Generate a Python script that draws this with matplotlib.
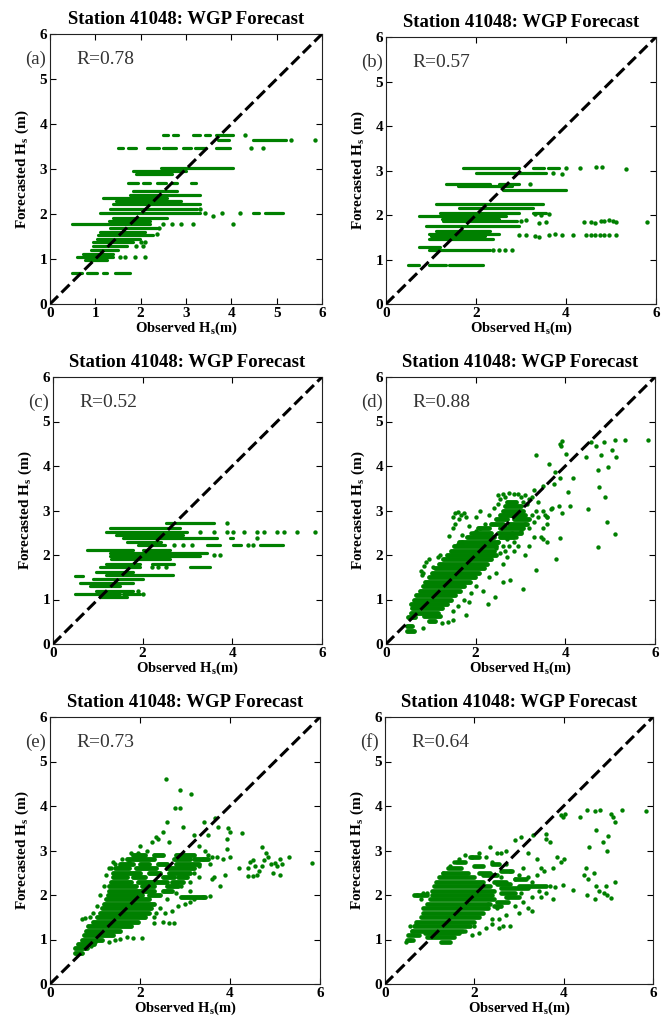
"""Six-panel scatter of forecasted vs observed significant wave height."""

import matplotlib

matplotlib.use("Agg")
import matplotlib.pyplot as plt

plt.rcParams.update({
    "font.family": "Liberation Serif",
    "font.weight": "bold",
    "mathtext.fontset": "custom",
    "mathtext.rm": "Liberation Serif:bold",
    "mathtext.it": "Liberation Serif:bold",
    "mathtext.bf": "Liberation Serif:bold",
    "mathtext.default": "rm",
})

GREEN = "#008000"
W, H = 666, 1032

TITLE = "Station 41048: WGP Forecast"
PANEL_TAGS = ["(a)", "(b)", "(c)", "(d)", "(e)", "(f)"]
R_VALUES = [0.78, 0.57, 0.52, 0.88, 0.73, 0.64]
X_TICKS = [[0, 1, 2, 3, 4, 5, 6], [0, 2, 4, 6], [0, 2, 4, 6],
           [0, 2, 4, 6], [0, 2, 4, 6], [0, 2, 4, 6]]
Y_TICKS = [0, 1, 2, 3, 4, 5, 6]

# forecast runs: (forecast level, first observed, last observed)
A_RUNS = [
    (3.76, 2.50, 2.60), (3.76, 2.72, 2.83), (3.76, 3.16, 3.30), (3.76, 3.41, 3.52),
    (3.76, 3.67, 4.04), (3.65, 3.70, 3.95), (3.65, 4.48, 5.20),
    (3.47, 1.50, 1.62), (3.47, 1.72, 1.90), (3.47, 2.13, 2.40), (3.47, 2.50, 2.79),
    (3.47, 2.94, 3.10), (3.47, 3.20, 3.45), (3.47, 3.67, 3.96),
    (3.02, 2.45, 4.04), (2.96, 1.84, 3.00), (2.88, 1.90, 2.70),
    (2.70, 1.72, 1.95), (2.70, 2.05, 2.20), (2.70, 2.35, 2.55), (2.70, 2.70, 2.80),
    (2.70, 3.10, 3.23),
    (2.52, 1.84, 2.80), (2.42, 1.76, 3.30), (2.35, 1.17, 2.57), (2.28, 1.45, 2.90),
    (2.22, 1.40, 3.30), (2.12, 1.32, 3.25), (2.02, 1.10, 3.30),
    (2.02, 4.48, 4.60), (2.02, 4.75, 5.14),
    (1.92, 1.40, 2.57), (1.85, 1.30, 2.20), (1.78, 0.48, 2.20), (1.68, 1.32, 2.35),
    (1.60, 1.10, 2.10), (1.53, 1.06, 2.28), (1.45, 1.03, 1.98), (1.38, 0.95, 1.84),
    (1.28, 0.95, 1.69), (1.20, 0.90, 1.50), (1.12, 0.73, 1.40), (1.05, 0.59, 1.40),
    (0.98, 0.78, 1.25),
    (0.68, 0.48, 0.70), (0.68, 0.81, 1.03), (0.69, 1.17, 1.25), (0.69, 1.43, 1.76),
]
A_DOTS = [
    (3.41, 2.02), (3.80, 2.02), (4.19, 2.02), (4.04, 1.78), (3.60, 1.95),
    (4.30, 3.76), (5.32, 3.65), (5.84, 3.65), (4.44, 3.47), (4.70, 3.47),
    (1.54, 1.05), (1.65, 1.05), (1.87, 1.05), (2.09, 1.05), (1.90, 1.28),
    (2.06, 1.28), (2.00, 1.38), (2.10, 1.38), (3.16, 1.78), (2.50, 1.78),
    (2.70, 1.78), (2.90, 1.78), (2.35, 1.55), (3.30, 2.12), (2.40, 1.68),
]

B_RUNS = [
    (3.05, 1.70, 2.96), (3.05, 3.26, 3.50), (3.05, 3.60, 3.85),
    (2.95, 2.00, 3.56), (2.70, 1.33, 2.30), (2.70, 2.52, 2.96), (2.65, 1.60, 2.80),
    (2.57, 2.60, 4.00), (2.25, 1.10, 3.48), (2.15, 1.63, 3.26),
    (2.05, 1.20, 2.96), (2.05, 3.26, 3.56), (1.98, 0.74, 2.67), (1.90, 1.25, 2.50),
    (1.86, 1.26, 2.90), (1.75, 0.89, 2.96), (1.65, 1.10, 2.30), (1.58, 0.96, 2.50),
    (1.52, 1.00, 2.20), (1.45, 0.96, 2.37), (1.28, 0.74, 1.19), (1.22, 0.96, 2.30),
    (0.88, 0.48, 0.74), (0.88, 0.96, 1.33), (0.88, 1.41, 2.15),
]
B_DOTS = [
    (4.00, 3.05), (4.30, 3.05), (4.67, 3.07), (4.80, 3.07), (5.33, 3.04),
    (3.70, 2.95), (3.90, 2.93), (3.19, 2.70), (3.63, 2.03), (3.30, 2.02),
    (3.45, 2.00), (4.41, 1.85), (4.56, 1.84), (4.65, 1.83), (4.78, 1.86),
    (4.85, 1.87), (4.95, 1.88), (5.05, 1.86), (5.10, 1.84), (5.81, 1.85),
    (3.00, 1.87), (3.10, 1.88), (3.55, 1.85), (3.40, 1.83),
    (2.96, 1.55), (3.10, 1.55), (3.30, 1.52), (3.40, 1.50), (3.63, 1.55),
    (3.75, 1.57), (3.90, 1.55), (4.15, 1.55), (4.44, 1.55), (4.55, 1.55),
    (4.65, 1.55), (4.75, 1.55), (4.85, 1.55), (4.96, 1.55), (5.10, 1.55),
    (2.37, 1.22), (2.50, 1.22), (2.65, 1.22), (2.81, 1.22),
]

C_RUNS = [
    (2.72, 2.53, 3.60), (2.60, 1.27, 2.83), (2.52, 1.19, 2.98), (2.45, 1.40, 2.90),
    (2.38, 1.56, 3.65), (2.38, 3.95, 4.02), (2.30, 1.65, 2.40),
    (2.22, 1.90, 2.50), (2.22, 3.43, 3.73), (2.22, 4.02, 4.20), (2.22, 4.62, 5.14),
    (2.12, 0.75, 1.79), (2.12, 2.00, 2.60), (2.05, 1.27, 3.43), (1.98, 1.27, 3.28),
    (1.90, 1.30, 2.60), (1.80, 1.19, 1.94), (1.80, 2.20, 2.70),
    (1.72, 1.04, 1.94), (1.72, 3.06, 3.50), (1.62, 0.97, 1.79), (1.55, 1.19, 2.68),
    (1.52, 0.48, 0.67), (1.45, 0.89, 2.01), (1.38, 0.60, 1.79), (1.30, 0.82, 1.50),
    (1.20, 0.97, 1.79), (1.13, 0.48, 1.49), (1.13, 1.56, 1.94), (1.05, 1.04, 1.64),
]
C_DOTS = [
    (3.87, 2.72), (3.28, 2.52), (3.58, 2.52), (3.87, 2.52), (4.02, 2.52),
    (4.25, 2.52), (4.55, 2.52), (4.70, 2.52), (5.00, 2.52), (5.15, 2.52),
    (5.44, 2.52), (5.85, 2.52), (4.55, 2.38), (4.35, 2.22), (4.47, 2.22),
    (3.60, 2.00), (3.73, 2.00), (2.53, 1.72), (2.20, 1.72), (2.35, 1.72),
    (2.01, 1.13), (1.90, 1.20), (3.10, 2.22), (2.90, 2.22), (2.70, 2.22),
]

D_RUNS = [
    (0.30, 0.47, 0.62), (0.40, 0.47, 0.58), (0.52, 0.95, 1.10), (0.60, 0.50, 0.65),
    (0.62, 0.85, 1.20), (0.70, 0.55, 1.15), (0.80, 0.57, 1.25), (0.90, 0.55, 1.35),
    (1.00, 0.62, 1.45), (1.10, 0.66, 1.55), (1.20, 0.75, 1.65), (1.30, 0.82, 1.75),
    (1.40, 0.88, 1.88), (1.50, 0.95, 1.98), (1.60, 1.02, 2.08), (1.70, 1.10, 2.18),
    (1.80, 1.18, 2.25), (1.90, 1.28, 2.35), (2.00, 1.35, 2.45), (2.10, 1.45, 2.40),
    (2.20, 1.52, 2.45), (2.30, 1.62, 2.50), (2.40, 1.80, 2.40), (2.40, 2.55, 2.85),
    (2.50, 1.95, 2.35), (2.50, 2.50, 3.00), (2.60, 2.05, 2.30), (2.60, 2.55, 3.05),
    (2.70, 2.35, 2.60), (2.70, 2.75, 3.15), (2.80, 2.45, 2.70), (2.80, 2.85, 3.20),
    (2.90, 2.55, 3.10), (3.00, 2.60, 3.05), (3.10, 2.65, 3.00), (3.20, 2.70, 2.90),
]
D_DOTS = [
    (0.82, 1.60), (0.85, 1.75), (0.90, 1.85), (0.95, 1.90), (0.80, 1.55),
    (0.78, 1.65), (1.20, 2.00), (1.15, 1.95), (1.05, 1.72),
    (1.50, 2.85), (1.55, 2.95), (1.60, 2.97), (1.68, 2.90), (1.75, 2.95),
    (1.78, 2.85), (1.62, 2.80), (1.50, 2.60), (1.55, 2.70), (1.40, 2.42),
    (1.70, 2.45), (1.85, 2.65), (2.00, 2.85), (2.10, 3.00),
    (2.50, 3.35), (2.60, 3.38), (2.75, 3.40), (2.85, 3.37), (2.95, 3.38),
    (3.10, 3.35), (3.00, 3.30),
    (2.50, 2.30), (2.60, 2.20), (2.70, 2.35), (2.80, 2.50), (2.90, 2.40),
    (3.00, 2.55), (3.10, 2.70), (3.20, 2.60), (3.30, 2.75), (3.25, 2.90),
    (3.35, 3.00), (3.40, 2.85), (2.20, 2.70), (2.10, 2.60), (2.30, 2.90),
    (2.40, 3.05), (2.50, 3.15), (2.55, 3.25), (2.65, 3.30), (3.15, 3.15),
    (3.20, 3.25), (3.05, 3.20), (2.45, 2.15), (2.55, 2.05), (2.65, 2.10),
    (2.75, 2.20), (2.85, 2.30), (1.90, 2.50), (2.00, 2.55), (1.70, 2.30),
    (1.60, 2.25),
    (3.50, 3.00), (3.55, 2.90), (3.60, 2.85), (3.70, 3.05), (3.85, 3.10),
    (3.93, 2.95), (3.50, 2.60), (3.60, 2.70), (3.45, 2.40), (3.60, 2.30),
    (3.50, 2.35), (3.30, 2.40), (3.20, 2.20), (3.10, 2.00), (3.35, 1.66),
    (3.80, 1.91), (3.87, 2.39), (3.06, 1.23), (2.76, 1.44), (2.60, 1.40),
    (2.44, 1.05), (2.27, 0.91), (2.16, 1.20), (2.30, 1.50), (2.45, 1.60),
    (2.60, 1.80), (2.70, 1.95), (2.85, 2.10), (2.95, 2.20),
    (1.79, 0.65), (1.49, 0.55), (1.38, 0.50), (1.25, 0.47), (0.82, 0.35),
    (1.60, 0.85), (1.75, 1.00), (1.90, 1.15), (2.00, 1.30), (1.85, 0.95),
    (1.50, 0.75),
    (3.35, 4.24), (3.64, 4.05), (3.76, 3.87), (3.87, 3.72), (3.75, 3.60),
    (3.87, 4.50), (3.93, 4.56), (3.90, 4.45), (4.02, 4.28), (4.17, 3.74),
    (4.06, 3.42), (4.10, 3.10), (4.45, 4.20), (4.58, 4.54), (4.69, 4.44),
    (4.80, 4.24), (4.86, 4.55), (4.96, 3.98), (5.03, 4.35), (5.10, 4.58),
    (5.12, 4.20), (5.33, 4.59), (5.85, 4.59), (4.73, 3.90), (4.75, 3.53),
    (4.88, 3.31), (4.51, 3.04), (4.92, 2.74), (5.10, 2.48), (4.73, 2.18),
    (3.69, 3.04), (3.58, 2.86), (3.40, 3.20), (3.30, 3.45), (3.50, 3.55),
    (3.25, 3.30),
]

E_RUNS = [
    (0.70, 0.55, 0.70), (0.80, 0.55, 0.82), (0.90, 0.62, 0.98), (1.00, 0.70, 1.15),
    (1.10, 0.75, 1.40), (1.20, 0.80, 1.55), (1.30, 0.85, 1.80), (1.40, 0.95, 1.95),
    (1.50, 1.05, 2.10), (1.60, 1.10, 2.20), (1.70, 1.15, 2.25), (1.80, 1.20, 2.30),
    (1.90, 1.25, 2.20), (1.95, 2.90, 3.45),
    (2.00, 1.28, 2.05), (2.00, 2.20, 2.45), (2.10, 1.30, 2.30), (2.10, 2.50, 2.70),
    (2.20, 1.30, 1.90), (2.20, 2.05, 2.30), (2.20, 2.60, 2.85),
    (2.30, 1.35, 1.80), (2.30, 1.95, 2.60), (2.30, 2.70, 2.95),
    (2.40, 1.40, 1.70), (2.40, 1.85, 2.10), (2.40, 2.50, 2.75), (2.40, 2.85, 3.05),
    (2.50, 1.40, 2.00), (2.50, 2.20, 2.45), (2.50, 2.65, 3.10),
    (2.60, 1.45, 1.75), (2.60, 1.90, 2.35), (2.60, 2.60, 3.20),
    (2.70, 1.55, 1.85), (2.70, 2.00, 2.20), (2.70, 2.40, 2.60), (2.70, 2.80, 3.30),
    (2.80, 1.70, 2.30), (2.80, 2.75, 3.10), (2.80, 3.20, 3.50),
    (2.90, 1.85, 2.10), (2.90, 2.30, 2.50), (2.90, 2.80, 3.20),
]
E_DOTS = [
    (2.00, 3.10), (2.26, 3.19), (2.15, 3.00), (2.40, 3.25), (2.52, 3.42),
    (2.35, 3.30), (2.65, 3.20), (1.80, 2.95), (1.95, 2.95),
    (1.35, 2.60), (1.45, 2.70), (1.55, 2.65), (1.60, 2.80), (1.75, 2.75),
    (3.00, 2.45), (3.10, 2.30), (3.20, 2.50), (3.30, 2.65), (3.40, 2.80),
    (3.50, 2.90), (3.60, 2.85), (3.30, 2.40), (3.10, 2.10), (2.90, 2.20),
    (2.80, 2.05), (2.60, 1.90), (2.45, 1.70), (2.35, 1.60),
    (2.57, 4.60), (2.89, 4.35), (3.13, 4.28), (2.78, 3.96), (2.89, 3.96),
    (2.59, 3.64), (2.96, 3.53), (3.42, 3.64), (3.67, 3.74), (3.74, 3.53),
    (3.95, 3.51), (4.00, 3.42), (4.26, 3.40), (3.94, 3.25), (3.93, 3.04),
    (4.00, 2.86), (3.85, 2.82), (3.89, 2.45), (3.78, 2.21), (4.19, 2.61),
    (3.59, 2.36), (3.65, 2.40), (3.55, 2.70), (3.70, 2.85), (3.30, 3.10),
    (3.45, 3.00), (3.20, 3.35), (3.50, 3.35),
    (4.40, 2.42), (4.50, 2.42), (4.60, 2.45), (4.65, 2.55), (4.70, 2.65),
    (4.75, 2.78), (4.80, 2.95), (4.70, 3.08), (4.85, 2.85), (4.90, 2.70),
    (4.95, 2.50), (5.00, 2.72), (5.05, 2.65), (5.10, 2.45), (5.10, 2.80),
    (5.15, 2.70), (5.30, 2.85), (4.45, 2.75), (4.50, 2.78), (4.55, 2.65),
    (4.40, 2.60), (5.83, 2.73),
    (1.55, 1.02), (1.70, 1.05), (1.85, 1.04), (2.05, 1.04), (2.30, 1.36),
    (2.50, 1.40), (2.65, 1.38), (2.75, 1.37), (2.30, 1.50), (2.55, 1.60),
    (2.70, 1.65), (2.85, 1.75), (3.00, 1.80), (3.20, 1.90), (3.40, 1.96),
    (3.55, 1.98), (3.10, 1.85), (1.30, 0.95), (1.45, 1.00), (0.90, 0.85),
    (1.00, 0.95),
    (0.70, 1.45), (0.78, 1.48), (0.88, 1.50), (0.95, 1.60), (1.05, 1.75),
    (1.10, 2.00), (1.20, 2.20), (1.25, 2.45), (1.30, 2.60), (1.40, 2.75),
]

F_RUNS = [
    (0.95, 1.25, 1.45), (1.00, 0.50, 0.62), (1.05, 0.95, 1.55), (1.10, 0.52, 0.75),
    (1.15, 0.90, 1.65), (1.20, 0.60, 1.75), (1.30, 0.65, 1.90), (1.40, 0.70, 2.00),
    (1.50, 0.80, 2.10), (1.60, 0.85, 2.20), (1.70, 0.85, 2.30), (1.80, 0.95, 2.35),
    (1.90, 1.00, 2.45), (2.00, 1.05, 2.40), (2.10, 1.05, 2.45), (2.20, 1.10, 2.35),
    (2.30, 1.15, 2.20), (2.40, 1.20, 2.00), (2.50, 1.30, 1.85), (2.60, 1.40, 1.70),
    (2.00, 0.65, 0.95), (2.05, 2.60, 2.90), (2.15, 2.60, 3.20), (2.25, 2.50, 2.80),
    (2.20, 3.00, 3.60), (2.30, 2.45, 2.70), (2.35, 2.90, 3.15), (2.45, 2.20, 2.50),
    (2.50, 2.10, 2.35), (2.55, 2.60, 2.85), (2.65, 2.00, 2.20), (2.70, 2.40, 2.55),
    (2.75, 1.60, 1.80), (2.85, 1.90, 2.10), (1.95, 2.70, 3.00), (1.85, 2.50, 2.75),
    (1.75, 2.45, 2.60),
]
F_DOTS = [
    (1.30, 2.50), (1.45, 2.65), (1.55, 2.75), (1.65, 2.80), (1.80, 2.90),
    (1.95, 2.85), (2.10, 2.95), (2.25, 2.85), (2.40, 2.75), (2.50, 2.95),
    (2.60, 2.40), (2.70, 2.70), (2.80, 2.55), (2.90, 2.35), (3.00, 2.45),
    (3.10, 2.60), (3.20, 2.40), (3.30, 2.30), (3.40, 2.45), (3.45, 2.10),
    (3.60, 2.05), (3.70, 2.20), (3.30, 1.95), (3.10, 1.85), (2.90, 1.75),
    (2.70, 1.55), (2.55, 1.45), (2.40, 1.35), (2.25, 1.25), (2.10, 1.15),
    (1.95, 1.10), (2.50, 1.70), (2.30, 1.80), (2.75, 1.95), (3.05, 2.05),
    (2.35, 3.08), (2.90, 3.23), (3.05, 3.30), (3.32, 3.34), (3.61, 3.38),
    (3.60, 3.25), (3.70, 3.20), (2.70, 3.00), (2.60, 2.95), (3.20, 2.95),
    (3.40, 2.80), (3.50, 2.60), (3.55, 2.55), (3.75, 2.60), (3.84, 2.86),
    (4.00, 2.80), (3.95, 2.74), (3.80, 2.18), (3.99, 2.22), (3.76, 1.91),
    (4.20, 2.12), (3.50, 1.95), (3.30, 1.65), (3.20, 1.70), (3.00, 1.60),
    (2.80, 1.30), (2.65, 1.30), (2.55, 1.25), (2.40, 1.45), (1.80, 1.20),
    (2.00, 1.30),
    (3.95, 3.79), (3.98, 3.75), (4.02, 3.82), (4.36, 3.75), (4.51, 2.60),
    (4.45, 2.45), (4.55, 2.35), (4.57, 3.08), (4.52, 2.00), (4.69, 2.50),
    (4.73, 2.20), (4.80, 2.10), (4.71, 1.92), (4.90, 2.05), (4.96, 2.00),
    (4.94, 2.21), (5.05, 1.94), (5.14, 2.30), (4.88, 3.19), (4.96, 2.99),
    (4.73, 3.47), (4.99, 3.33), (4.53, 3.90), (4.70, 3.88), (4.81, 3.91),
    (5.07, 3.83), (5.10, 3.75), (5.14, 3.64), (5.31, 3.90), (5.85, 3.88),
    (0.48, 0.95), (0.55, 1.00), (0.60, 1.20), (0.55, 1.30), (0.70, 1.35),
    (0.72, 2.00), (0.85, 2.05), (0.95, 2.05), (0.80, 1.90),
]

RUNS = [A_RUNS, B_RUNS, C_RUNS, D_RUNS, E_RUNS, F_RUNS]
DOTS = [A_DOTS, B_DOTS, C_DOTS, D_DOTS, E_DOTS, F_DOTS]
RUN_WIDTH = [2.3, 2.3, 2.3, 3.5, 3.5, 3.4]

# axes boxes in pixels: left, top, right, bottom
BOXES = [
    (50, 34, 322, 304), (386, 37, 656, 304),
    (53, 377, 322, 644), (386, 377, 655, 644),
    (50, 717, 320, 984), (385, 717, 653, 984),
]

TICK_FONT = {"fontsize": 11, "fontweight": "bold", "family": "Liberation Serif"}


def draw_panel(ax, i):
    runs = RUNS[i]
    ax.hlines([r[0] for r in runs], [r[1] for r in runs], [r[2] for r in runs],
              colors=GREEN, linewidth=RUN_WIDTH[i], capstyle="round", zorder=2)
    dots = DOTS[i]
    ax.scatter([d[0] for d in dots], [d[1] for d in dots], s=10, color=GREEN,
               linewidths=0, zorder=2)
    ax.plot([0, 6], [0, 6], "k--", lw=2.2, zorder=3)

    ax.set_xlim(0, 6)
    ax.set_ylim(0, 6)
    ax.set_xticks(X_TICKS[i], labels=[str(t) for t in X_TICKS[i]], **TICK_FONT)
    ax.set_yticks(Y_TICKS, labels=[str(t) for t in Y_TICKS], **TICK_FONT)
    ax.tick_params(direction="in", top=True, right=True, length=4, width=0.8,
                   pad=2)
    for s in ax.spines.values():
        s.set_linewidth(0.8)
        s.set_color("#222222")

    ax.set_title(TITLE, fontsize=13.5, fontweight="bold", pad=7)
    ax.set_xlabel("Observed H$_s$(m)", fontsize=10.5, fontweight="bold",
                  labelpad=0)
    ax.set_ylabel("Forecasted H$_s$ (m)", fontsize=11, fontweight="bold",
                  labelpad=6)
    ax.text(-0.55, 5.43, PANEL_TAGS[i], fontsize=13.5, fontweight="normal",
            ha="left", va="center", color="#333333", clip_on=False)
    ax.text(0.58, 5.43, f"R={R_VALUES[i]:.2f}", fontsize=14, fontweight="normal",
            ha="left", va="center", color="#333333")


def main():
    fig = plt.figure(figsize=(W / 100, H / 100), dpi=100)
    for i, (l, t, r, b) in enumerate(BOXES):
        ax = fig.add_axes([l / W, 1 - b / H, (r - l) / W, (b - t) / H])
        draw_panel(ax, i)
    fig.savefig("out.png", dpi=100)
    plt.close(fig)


if __name__ == "__main__":
    main()
